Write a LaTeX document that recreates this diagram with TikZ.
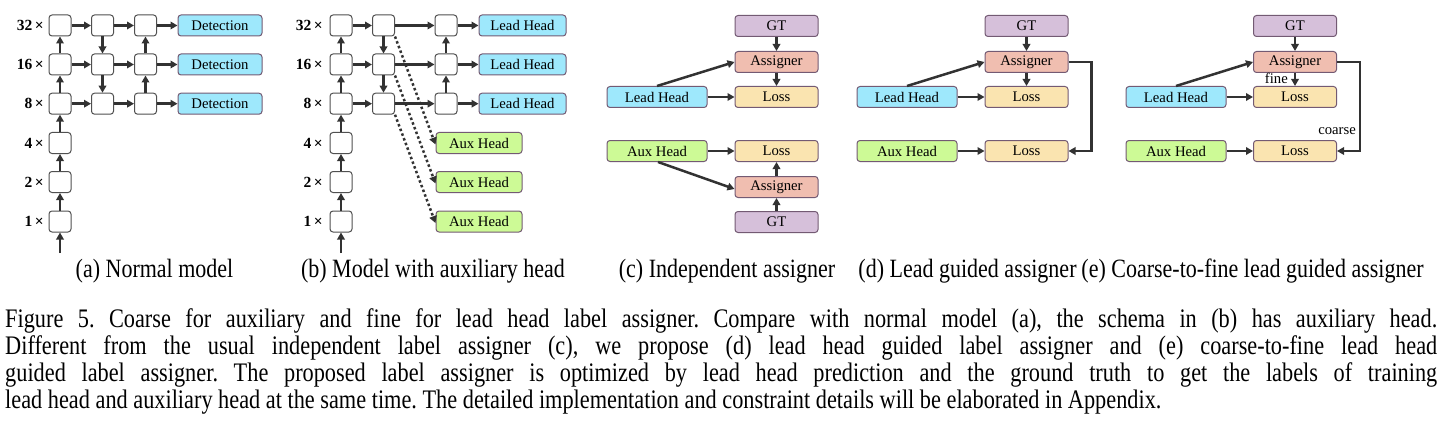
\documentclass[tikz,border=0pt]{standalone}
\usepackage{fontspec}
\usepackage{graphicx}
\setmainfont{Liberation Serif}
\usetikzlibrary{arrows.meta}
\frenchspacing
\definecolor{arrowc}{RGB}{50,50,50}
\definecolor{cellb}{RGB}{80,80,80}
\definecolor{hdb}{RGB}{115,90,115}
\definecolor{cyanf}{RGB}{158,232,252}
\definecolor{greenf}{RGB}{205,250,150}
\definecolor{gtf}{RGB}{214,192,218}
\definecolor{asgf}{RGB}{240,190,176}
\definecolor{lossf}{RGB}{250,228,176}
\newcommand{\tallline}[1]{\scalebox{1}[1.2]{#1}}
\begin{document}
\begin{tikzpicture}[x=1pt,y=-1pt,
  cell/.style={draw=cellb, line width=1pt, rounded corners=3pt, minimum width=22pt, minimum height=21pt, inner sep=0pt, fill=white},
  hd/.style={draw=hdb, line width=1pt, rounded corners=3pt, minimum height=21pt, inner sep=0pt, font=\fontsize{14.7}{16}\selectfont},
  det/.style={hd, fill=cyanf, minimum width=84pt},
  leadb/.style={hd, fill=cyanf, minimum width=87pt},
  auxb/.style={hd, fill=greenf, minimum width=86pt},
  leadc/.style={hd, fill=cyanf, minimum width=100pt},
  auxc/.style={hd, fill=greenf, minimum width=100pt},
  gtb/.style={hd, fill=gtf, minimum width=83pt},
  asgb/.style={hd, fill=asgf, minimum width=83pt},
  lossb/.style={hd, fill=lossf, minimum width=83pt},
  scale lbl/.style={anchor=east, inner sep=0pt, font=\fontsize{15.5}{17}\selectfont\bfseries},
  small lbl/.style={inner sep=0pt, font=\fontsize{14.7}{16}\selectfont},
  arr/.style={draw=arrowc, line width=2.5pt, -{Triangle[length=7pt,width=7.5pt]}},
  dotarr/.style={draw=arrowc, line width=2.5pt, dash pattern=on 2.5pt off 2.5pt, -{Triangle[length=7pt,width=7.5pt]}},
  sub/.style={anchor=base, inner sep=0pt, font=\fontsize{22}{26}\selectfont},
  captxt/.style={anchor=base west, inner sep=0pt, font=\fontsize{22.3}{27}\selectfont}
]
\useasboundingbox (0,0) rectangle (1442,433);

% ---------------- (a) ----------------
\foreach \r/\y in {1/25.5,2/64.5,3/103.7,4/143,5/182,6/221.5}{
  \node[cell] (a\r c1) at (60,\y) {};
}
\foreach \r/\y in {1/25.5,2/64.5,3/103.7}{
  \node[cell] (a\r c2) at (102.5,\y) {};
  \node[cell] (a\r c3) at (145.5,\y) {};
  \node[det] (a\r d) at (220,\y) {Detection};
}
\node[scale lbl] (al1) at (44,25.5) {32\,×};
\node[scale lbl] (al2) at (44,64.5) {16\,×};
\node[scale lbl] (al3) at (44,103.7) {8\,×};
\node[scale lbl] (al4) at (44,143) {4\,×};
\node[scale lbl] (al5) at (44,182) {2\,×};
\node[scale lbl] (al6) at (44,221.5) {1\,×};
\coordinate (ain) at (60,253);
\draw[arr] (ain) -- (a6c1);
\draw[arr] (a6c1) -- (a5c1);
\draw[arr] (a5c1) -- (a4c1);
\draw[arr] (a4c1) -- (a3c1);
\draw[arr] (a3c1) -- (a2c1);
\draw[arr] (a2c1) -- (a1c1);
\draw[arr] (a1c2) -- (a2c2);
\draw[arr] (a2c2) -- (a3c2);
\draw[arr] (a3c3) -- (a2c3);
\draw[arr] (a2c3) -- (a1c3);
\foreach \r in {1,2,3}{
  \draw[arr] (a\r c1) -- (a\r c2);
  \draw[arr] (a\r c2) -- (a\r c3);
  \draw[arr] (a\r c3) -- (a\r d);
}

% ---------------- (b) ----------------
\foreach \r/\y in {1/25.5,2/64.5,3/103.7,4/143,5/182,6/221.5}{
  \node[cell] (b\r c1) at (341,\y) {};
}
\foreach \r/\y in {1/25.5,2/64.5,3/103.7}{
  \node[cell] (b\r c2) at (383.5,\y) {};
  \node[cell] (b\r c3) at (446,\y) {};
  \node[leadb] (b\r h) at (522.5,\y) {Lead Head};
}
\node[auxb] (bx1) at (479,143) {Aux Head};
\node[auxb] (bx2) at (479,182) {Aux Head};
\node[auxb] (bx3) at (479,221.5) {Aux Head};
\node[scale lbl] (bl1) at (323,25.5) {32\,×};
\node[scale lbl] (bl2) at (323,64.5) {16\,×};
\node[scale lbl] (bl3) at (323,103.7) {8\,×};
\node[scale lbl] (bl4) at (323,143) {4\,×};
\node[scale lbl] (bl5) at (323,182) {2\,×};
\node[scale lbl] (bl6) at (323,221.5) {1\,×};
\coordinate (bin) at (341,253);
\draw[arr] (bin) -- (b6c1);
\draw[arr] (b6c1) -- (b5c1);
\draw[arr] (b5c1) -- (b4c1);
\draw[arr] (b4c1) -- (b3c1);
\draw[arr] (b3c1) -- (b2c1);
\draw[arr] (b2c1) -- (b1c1);
\draw[arr] (b1c2) -- (b2c2);
\draw[arr] (b2c2) -- (b3c2);
\draw[arr] (b3c3) -- (b2c3);
\draw[arr] (b2c3) -- (b1c3);
\foreach \r in {1,2,3}{
  \draw[arr] (b\r c1) -- (b\r c2);
  \draw[arr] (b\r c2) -- (b\r c3);
  \draw[arr] (b\r c3) -- (b\r h);
}
\draw[dotarr] (b1c2.south east) -- ([yshift=-1.5pt]bx1.west);
\draw[dotarr] (b2c2.south east) -- ([yshift=-1.5pt]bx2.west);
\draw[dotarr] (b3c2.south east) -- ([yshift=-1.5pt]bx3.west);

% ---------------- (c) ----------------
\node[gtb]   (cgt1) at (776.5,26) {GT};
\node[asgb]  (cas1) at (776.5,62) {Assigner};
\node[lossb] (clo1) at (776.5,97) {Loss};
\node[leadc] (clh)  at (657,97) {Lead Head};
\node[auxc]  (cax)  at (657,151) {Aux Head};
\node[lossb] (clo2) at (776.5,151) {Loss};
\node[asgb]  (cas2) at (776.5,187) {Assigner};
\node[gtb]   (cgt2) at (776.5,222) {GT};
\draw[arr] (cgt1) -- (cas1);
\draw[arr] (cas1) -- (clo1);
\draw[arr] (clh) -- (clo1);
\draw[arr] (clh.north) -- (cas1.west);
\draw[arr] (cax) -- (clo2);
\draw[arr] ([xshift=1pt]cax.south) -- ([yshift=-2pt]cas2.west);
\draw[arr] (cgt2) -- (cas2);
\draw[arr] (cas2) -- (clo2);

% ---------------- (d) ----------------
\node[gtb]   (dgt) at (1026.5,26) {GT};
\node[asgb]  (das) at (1026.5,62) {Assigner};
\node[lossb] (dlo1) at (1026.5,97) {Loss};
\node[leadc] (dlh)  at (907,97) {Lead Head};
\node[auxc]  (dax)  at (907,151) {Aux Head};
\node[lossb] (dlo2) at (1026.5,151) {Loss};
\coordinate (dR) at (1091.5,62);
\draw[arr] (dgt) -- (das);
\draw[arr] (das) -- (dlo1);
\draw[arr] (dlh) -- (dlo1);
\draw[arr] (dlh.north) -- (das.west);
\draw[arr] (dax) -- (dlo2);
\draw[arr] (das.east) -- (dR) |- (dlo2.east);

% ---------------- (e) ----------------
\node[gtb]   (egt) at (1295,26) {GT};
\node[asgb]  (eas) at (1295,62) {Assigner};
\node[lossb] (elo1) at (1295,97) {Loss};
\node[leadc] (elh)  at (1176,97) {Lead Head};
\node[auxc]  (eax)  at (1176,151) {Aux Head};
\node[lossb] (elo2) at (1295,151) {Loss};
\coordinate (eR) at (1360,62);
\draw[arr] (egt) -- (eas);
\draw[arr] (eas) -- (elo1);
\draw[arr] (elh) -- (elo1);
\draw[arr] (elh.north) -- (eas.west);
\draw[arr] (eax) -- (elo2);
\draw[arr] (eas.east) -- (eR) |- (elo2.east);
\node[small lbl, anchor=base east] (efine) at (1288,84) {fine};
\node[small lbl, anchor=base east] (ecoarse) at (1356,135) {coarse};

% ---------------- sub-captions ----------------
\node[sub] (sa) at (154.5,277) {\tallline{(a) Normal model}};
\node[sub] (sb) at (433,277) {\tallline{(b) Model with auxiliary head}};
\node[sub] (sc) at (727,277) {\tallline{(c) Independent assigner}};
\node[sub] (sd) at (967.5,277) {\tallline{(d) Lead guided assigner}};
\node[sub] (se) at (1252.5,277) {\tallline{(e) Coarse-to-fine lead guided assigner}};

% ---------------- caption ----------------
\node[captxt] (cap1) at (5,327.3) {\tallline{\makebox[1432pt][s]{Figure 5. Coarse for auxiliary and fine for lead head label assigner. Compare with normal model (a), the schema in (b) has auxiliary head.}}};
\node[captxt] (cap2) at (5,354.3) {\tallline{\makebox[1432pt][s]{Different from the usual independent label assigner (c), we propose (d) lead head guided label assigner and (e) coarse-to-fine lead head}}};
\node[captxt] (cap3) at (5,381.3) {\tallline{\makebox[1432pt][s]{guided label assigner. The proposed label assigner is optimized by lead head prediction and the ground truth to get the labels of training}}};
\node[captxt] (cap4) at (5,408.3) {\tallline{lead head and auxiliary head at the same time. The detailed implementation and constraint details will be elaborated in Appendix.}};
\end{tikzpicture}
\end{document}
